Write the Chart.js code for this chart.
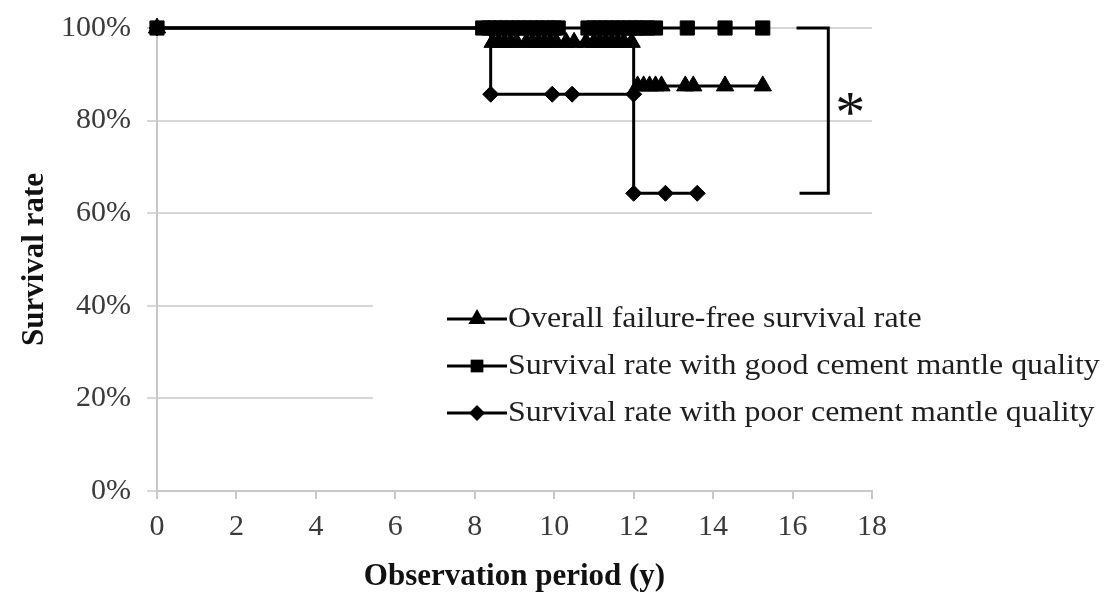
<!DOCTYPE html>
<html><head><meta charset="utf-8">
<script src="https://cdn.jsdelivr.net/npm/chart.js"></script>
<style>html,body{margin:0;padding:0;background:#fff;overflow:hidden}</style>
</head><body>
<canvas id="c" width="1105" height="593"></canvas>
<script>
// ---- data (years, survival %) ----
const legendLabels = [
  'Overall failure-free survival rate',
  'Survival rate with good cement mantle quality',
  'Survival rate with poor cement mantle quality'
];
// Kaplan-Meier step curves
const overallTimes = [0, 8.4, 12.0, 15.25];
const overallRates = [100, 96.9, 87.5, 87.5];
const goodTimes = [0, 15.25];
const goodRates = [100, 100];
const poorTimes = [0, 8.4, 12.0, 13.6];
const poorRates = [100, 85.7, 64.3, 64.3];
// censored observations
const overallCensorTimes = [0, 8.45, 8.6, 8.75, 8.9, 9.05, 9.3, 9.45, 9.6, 9.75, 9.9, 10.05, 10.3, 10.5, 10.8, 11.0, 11.15, 11.3, 11.45, 11.6, 11.75, 11.95, 12.1, 12.25, 12.4, 12.55, 12.7, 13.3, 13.5, 14.3, 15.25];
const overallCensorRates = [100, 96.9, 96.9, 96.9, 96.9, 96.9, 96.9, 96.9, 96.9, 96.9, 96.9, 96.9, 96.9, 96.9, 96.9, 96.9, 96.9, 96.9, 96.9, 96.9, 96.9, 96.9, 87.5, 87.5, 87.5, 87.5, 87.5, 87.5, 87.5, 87.5, 87.5];
const goodCensorTimes = [0, 8.2, 8.35, 8.5, 8.65, 8.8, 8.95, 9.1, 9.25, 9.4, 9.55, 9.7, 9.85, 10.0, 10.1, 10.85, 11.0, 11.15, 11.3, 11.45, 11.6, 11.75, 11.9, 12.05, 12.2, 12.35, 12.55, 13.35, 14.3, 15.25];
const goodCensorRates = goodCensorTimes.map(() => 100);
const poorCensorTimes = [0, 8.4, 9.95, 10.45, 12.0, 12.0, 12.8, 13.6];
const poorCensorRates = [100, 85.7, 85.7, 85.7, 85.7, 64.3, 64.3, 64.3];
// significance bracket (years, %)
const bracketX = [16.1, 16.9];
const bracketY = [100, 64.3];
const starPos = [17.45, 83.5];
const xTickValues = [0, 2, 4, 6, 8, 10, 12, 14, 16, 18];
const yTickValues = [0, 20, 40, 60, 80, 100];

const pts = (xs, ys) => xs.map((x, i) => ({x, y: ys[i]}));
const SERIF = '"Liberation Serif", "Times New Roman", serif';

const markerDs = (xs, ys, style, r) => ({
  data: pts(xs, ys), showLine: false, pointStyle: style, pointRadius: r, pointHoverRadius: r,
  backgroundColor: '#000', borderColor: '#000', borderWidth: 1, clip: false
});
const lineDs = (xs, ys) => ({
  data: pts(xs, ys), showLine: true, stepped: 'before', pointRadius: 0,
  borderColor: '#000', borderWidth: 3, fill: false, clip: false
});

function drawMarker(ctx, style, x, y, r) {
  ctx.beginPath();
  if (style === 'triangle') {
    ctx.moveTo(x, y - r);
    ctx.lineTo(x + r * 0.866, y + r * 0.5);
    ctx.lineTo(x - r * 0.866, y + r * 0.5);
  } else if (style === 'rect') {
    const s = r * Math.SQRT1_2;
    ctx.rect(x - s, y - s, 2 * s, 2 * s);
  } else {
    ctx.moveTo(x, y - r); ctx.lineTo(x + r, y); ctx.lineTo(x, y + r); ctx.lineTo(x - r, y);
  }
  ctx.closePath();
  ctx.fill();
}

const overlay = {
  id: 'overlay',
  beforeDatasetsDraw(chart) {
    const ctx = chart.ctx;
    ctx.save();
    ctx.fillStyle = '#fff';
    ctx.fillRect(373, 236, 732, 244);
    ctx.restore();
  },
  afterDraw(chart) {
    const ctx = chart.ctx, xs = chart.scales.x, ys = chart.scales.y;
    ctx.save();
    // legend
    const styles = ['triangle', 'rect', 'rectRot'];
    const radii = [10, 9, 8];
    const rowY = [319, 366, 413];
    legendLabels.forEach((lab, i) => {
      ctx.strokeStyle = '#000'; ctx.lineWidth = 3;
      ctx.beginPath(); ctx.moveTo(447, rowY[i]); ctx.lineTo(507, rowY[i]); ctx.stroke();
      ctx.fillStyle = '#000';
      drawMarker(ctx, styles[i], 477, rowY[i], radii[i]);
      ctx.save();
      ctx.translate(508, rowY[i]);
      ctx.scale(1.1, 1);
      ctx.font = '29px ' + SERIF;
      ctx.textBaseline = 'middle';
      ctx.textAlign = 'left';
      ctx.fillStyle = '#1e1e1e';
      ctx.fillText(lab, 0, 0);
      ctx.restore();
    });
    // bracket
    const x0 = xs.getPixelForValue(bracketX[0]), x1 = xs.getPixelForValue(bracketX[1]);
    const y0 = ys.getPixelForValue(bracketY[0]), y1 = ys.getPixelForValue(bracketY[1]);
    ctx.strokeStyle = '#000'; ctx.lineWidth = 3;
    ctx.beginPath();
    ctx.moveTo(x0, y0); ctx.lineTo(x1, y0); ctx.lineTo(x1, y1); ctx.lineTo(x0 + 3, y1);
    ctx.stroke();
    ctx.fillStyle = '#111';
    ctx.font = '60px ' + SERIF;
    ctx.textAlign = 'center';
    ctx.textBaseline = 'alphabetic';
    ctx.fillText('*', xs.getPixelForValue(starPos[0]), ys.getPixelForValue(starPos[1]) + 28);
    ctx.restore();
  }
};

new Chart(document.getElementById('c'), {
  type: 'scatter',
  data: {
    datasets: [
      markerDs(overallCensorTimes, overallCensorRates, 'triangle', 10),
      markerDs(goodCensorTimes, goodCensorRates, 'rect', 10),
      markerDs(poorCensorTimes, poorCensorRates, 'rectRot', 8),
      lineDs(overallTimes, overallRates),
      lineDs(goodTimes, goodRates),
      lineDs(poorTimes, poorRates)
    ]
  },
  options: {
    responsive: false,
    animation: false,
    devicePixelRatio: 1,
    layout: { padding: { top: 28, right: 233, left: 0, bottom: 0 } },
    plugins: { legend: { display: false }, tooltip: { enabled: false } },
    scales: {
      x: {
        type: 'linear', min: 0, max: 18,
        afterBuildTicks: s => { s.ticks = xTickValues.map(v => ({value: v})); },
        afterFit: s => { s.height = 102; },
        grid: { drawOnChartArea: false, drawTicks: true, tickLength: 8, color: '#c8c8c8', lineWidth: 2 },
        border: { display: true, color: '#c8c8c8', width: 2 },
        ticks: { color: '#3a3a3a', font: { family: SERIF, size: 30 }, padding: 10, maxRotation: 0 },
        title: { display: true, text: 'Observation period (y)', color: '#111',
                 font: { family: SERIF, size: 31, weight: 'bold' }, padding: { top: 0, bottom: -3 } }
      },
      y: {
        type: 'linear', min: 0, max: 100,
        afterBuildTicks: s => { s.ticks = yTickValues.map(v => ({value: v})); },
        afterFit: s => { s.width = 157; },
        grid: { drawTicks: true, tickLength: 10, color: '#d6d6d6', lineWidth: 2 },
        border: { display: true, color: '#c8c8c8', width: 2 },
        ticks: { color: '#3a3a3a', font: { family: SERIF, size: 30, lineHeight: 0.8 }, padding: 16,
                 callback: v => v + '%' },
        title: { display: true, text: 'Survival rate', color: '#111',
                 font: { family: SERIF, size: 31, weight: 'bold' }, padding: { top: 16, bottom: 0 } }
      }
    }
  },
  plugins: [overlay]
});
</script>
</body></html>
